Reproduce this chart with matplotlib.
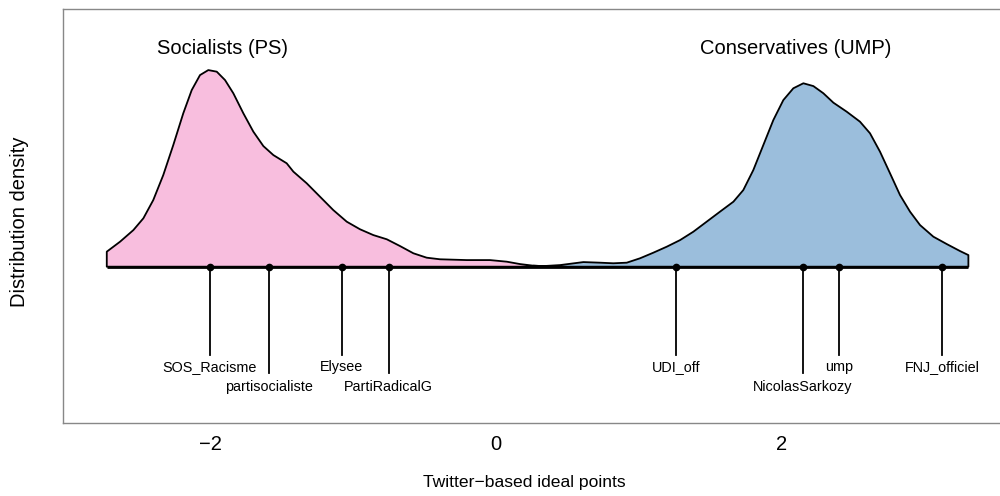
import matplotlib
matplotlib.use("Agg")
import matplotlib.pyplot as plt
from matplotlib.patches import Polygon

plt.rcParams['font.family'] = ['Liberation Sans', 'DejaVu Sans']

# Density curve of the Socialists (PS)
ps_x = [-2.722, -2.629, -2.536, -2.466, -2.397, -2.327, -2.257, -2.187, -2.128, -2.070,
        -2.012, -1.953, -1.895, -1.837, -1.767, -1.697, -1.627, -1.557, -1.464, -1.417,
        -1.324, -1.231, -1.138, -1.044, -0.951, -0.858, -0.764, -0.671, -0.578, -0.485,
        -0.392, -0.205, -0.042, 0.075, 0.168, 0.261, 0.355]
ps_y = [0.075, 0.125, 0.183, 0.242, 0.333, 0.458, 0.608, 0.767, 0.883, 0.958,
        0.983, 0.975, 0.933, 0.867, 0.767, 0.675, 0.603, 0.558, 0.517, 0.475,
        0.417, 0.350, 0.283, 0.225, 0.187, 0.158, 0.137, 0.103, 0.067, 0.045,
        0.037, 0.033, 0.033, 0.025, 0.013, 0.005, 0.002]

# Density curve of the Conservatives (UMP)
ump_x = [0.261, 0.331, 0.448, 0.611, 0.727, 0.820, 0.914, 1.007, 1.100, 1.194,
         1.287, 1.380, 1.473, 1.566, 1.660, 1.729, 1.799, 1.869, 1.939, 2.009,
         2.079, 2.149, 2.219, 2.289, 2.359, 2.452, 2.545, 2.615, 2.685, 2.755,
         2.825, 2.895, 2.965, 3.058, 3.152, 3.245, 3.303]
ump_y = [0.005, 0.003, 0.008, 0.023, 0.020, 0.017, 0.020, 0.042, 0.070, 0.100,
         0.133, 0.175, 0.225, 0.275, 0.325, 0.383, 0.483, 0.608, 0.733, 0.833,
         0.892, 0.917, 0.903, 0.867, 0.820, 0.775, 0.725, 0.667, 0.575, 0.467,
         0.358, 0.275, 0.208, 0.150, 0.113, 0.078, 0.058]

# Labelled accounts
acc_names = ["SOS_Racisme", "partisocialiste", "Elysee", "PartiRadicalG",
             "UDI_off", "NicolasSarkozy", "ump", "FNJ_officiel"]
acc_x = [-2.00, -1.59, -1.08, -0.75, 1.26, 2.145, 2.40, 3.12]
acc_level = [0, 1, 0, 1, 0, 1, 0, 0]

group_names = ["Socialists (PS)", "Conservatives (UMP)"]
group_x = [-1.91, 2.096]

xticks = [-2, 0, 2]
xtick_labels = ["\u22122", "0", "2"]

PINK = "#F8BEDE"
BLUE = "#9BBEDC"

fig = plt.figure(figsize=(10, 4.96), dpi=100)
ax = fig.add_axes([0.0633, 0.1472, 0.96, 0.8347])
ax.set_xlim(-3.026, 3.687)
ax.set_ylim(-0.7815, 1.2885)

for xs, ys, col in [(ps_x, ps_y, PINK), (ump_x, ump_y, BLUE)]:
    verts = [(xs[0], 0)] + list(zip(xs, ys)) + [(xs[-1], 0)]
    ax.add_patch(Polygon(verts, closed=True, facecolor=col, edgecolor="black",
                         linewidth=1.3, joinstyle="round"))

ax.plot([ps_x[0], ump_x[-1]], [0, 0], color="black", linewidth=2.0, solid_capstyle="butt")

line_end = [-0.4415, -0.5315]
label_y = [-0.50, -0.60]
for name, x, lev in zip(acc_names, acc_x, acc_level):
    ax.plot([x, x], [0, line_end[lev]], color="black", linewidth=1.3)
    ax.plot([x], [0], marker="o", markersize=4.5, color="black")
    ax.text(x, label_y[lev], name, ha="center", va="center", fontsize=10.4)

for name, x in zip(group_names, group_x):
    ax.text(x, 1.09, name, ha="center", va="center", fontsize=14.5)

ax.set_xticks(xticks)
ax.set_xticklabels(xtick_labels, fontsize=14.5)
ax.tick_params(axis="x", length=0, pad=9)
ax.set_yticks([])
for s in ax.spines.values():
    s.set_color("#888888")
    s.set_linewidth(1.0)

fig.text(0.524, 1 - 483 / 496, "Twitter\u2212based ideal points", ha="center", va="center", fontsize=12.6)
fig.text(0.020, 1 - 222 / 496, "Distribution density", ha="center", va="center",
         rotation=90, fontsize=14.5)

fig.savefig("out.png", dpi=100)
